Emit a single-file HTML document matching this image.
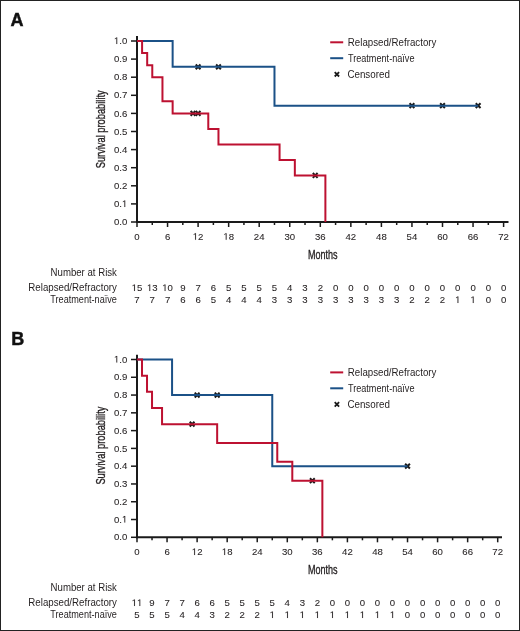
<!DOCTYPE html>
<html><head><meta charset="utf-8"><style>
html,body{margin:0;padding:0;background:#fff;}
.wrap{position:relative;width:520px;height:631px;box-sizing:border-box;border:1px solid #222;overflow:hidden;background:#fff;}
svg{position:absolute;left:-1px;top:-1px;will-change:transform;}
svg{font-family:"Liberation Sans", sans-serif;font-size:10px;fill:#231f20;}
.d{stroke:#231f20;stroke-width:0.08px;}
.o{fill:#231f20;stroke:#231f20;stroke-width:0.08px;vector-effect:non-scaling-stroke;}
.t{stroke:#231f20;stroke-width:0.35px;}
</style></head><body><div class="wrap">
<svg width="520" height="631" viewBox="0 0 520 631">
<text x="10.6" y="25.8" font-weight="bold" font-size="18" fill="#111" stroke="#111" stroke-width="0.45">A</text>
<path d="M137 36V223" stroke="#1a1a1a" stroke-width="2"/>
<path d="M136 222H508.5" stroke="#1a1a1a" stroke-width="2"/>
<path d="M195.7 64.46L200.5 69.26M195.7 69.26L200.5 64.46" stroke="#1a1a1a" stroke-width="2" fill="none"/>
<path d="M216.07 64.46L220.87 69.26M216.07 69.26L220.87 64.46" stroke="#1a1a1a" stroke-width="2" fill="none"/>
<path d="M409.55 103.24L414.35 108.04M409.55 108.04L414.35 103.24" stroke="#1a1a1a" stroke-width="2" fill="none"/>
<path d="M440.1 103.24L444.9 108.04M440.1 108.04L444.9 103.24" stroke="#1a1a1a" stroke-width="2" fill="none"/>
<path d="M475.74 103.24L480.54 108.04M475.74 108.04L480.54 103.24" stroke="#1a1a1a" stroke-width="2" fill="none"/>
<path d="M190.61 111L195.41 115.8M190.61 115.8L195.41 111" stroke="#1a1a1a" stroke-width="2" fill="none"/>
<path d="M195.7 111L200.5 115.8M195.7 115.8L200.5 111" stroke="#1a1a1a" stroke-width="2" fill="none"/>
<path d="M312.81 173.06L317.61 177.86M312.81 177.86L317.61 173.06" stroke="#1a1a1a" stroke-width="2" fill="none"/>
<path d="M137 41H172.64V66.86H274.48V105.64H478.14" stroke="#1b5187" stroke-width="2" fill="none" stroke-linejoin="miter" stroke-linecap="butt"/>
<path d="M137 41H142.09V53.07H147.18V65.13H152.28V77.2H162.46V101.33H172.64V113.4H208.28V128.91H218.47V144.43H279.57V159.94H294.84V175.46H325.39V222H325.39" stroke="#bd1131" stroke-width="2" fill="none" stroke-linejoin="miter" stroke-linecap="butt"/>
<path d="M131 222H137" stroke="#1a1a1a" stroke-width="1.5"/>
<text transform="translate(127.3 225.1) scale(1.0 1)" text-anchor="end" font-size="9.6" class="d">0.0</text>
<path d="M131 203.9H137" stroke="#1a1a1a" stroke-width="1.5"/>
<text transform="translate(127.3 207) scale(1.0 1)" text-anchor="end" font-size="9.6" class="d">0. </text>
<path d="M515 0H696V1409H530L197 1180V1010L515 1237Z" transform="translate(121.96 207) scale(0.00469 -0.00469)" class="o"/>
<path d="M131 185.8H137" stroke="#1a1a1a" stroke-width="1.5"/>
<text transform="translate(127.3 188.9) scale(1.0 1)" text-anchor="end" font-size="9.6" class="d">0.2</text>
<path d="M131 167.7H137" stroke="#1a1a1a" stroke-width="1.5"/>
<text transform="translate(127.3 170.8) scale(1.0 1)" text-anchor="end" font-size="9.6" class="d">0.3</text>
<path d="M131 149.6H137" stroke="#1a1a1a" stroke-width="1.5"/>
<text transform="translate(127.3 152.7) scale(1.0 1)" text-anchor="end" font-size="9.6" class="d">0.4</text>
<path d="M131 131.5H137" stroke="#1a1a1a" stroke-width="1.5"/>
<text transform="translate(127.3 134.6) scale(1.0 1)" text-anchor="end" font-size="9.6" class="d">0.5</text>
<path d="M131 113.4H137" stroke="#1a1a1a" stroke-width="1.5"/>
<text transform="translate(127.3 116.5) scale(1.0 1)" text-anchor="end" font-size="9.6" class="d">0.6</text>
<path d="M131 95.3H137" stroke="#1a1a1a" stroke-width="1.5"/>
<text transform="translate(127.3 98.4) scale(1.0 1)" text-anchor="end" font-size="9.6" class="d">0.7</text>
<path d="M131 77.2H137" stroke="#1a1a1a" stroke-width="1.5"/>
<text transform="translate(127.3 80.3) scale(1.0 1)" text-anchor="end" font-size="9.6" class="d">0.8</text>
<path d="M131 59.1H137" stroke="#1a1a1a" stroke-width="1.5"/>
<text transform="translate(127.3 62.2) scale(1.0 1)" text-anchor="end" font-size="9.6" class="d">0.9</text>
<path d="M131 41H137" stroke="#1a1a1a" stroke-width="1.5"/>
<text transform="translate(127.3 44.1) scale(1.0 1)" text-anchor="end" font-size="9.6" class="d"> .0</text>
<path d="M515 0H696V1409H530L197 1180V1010L515 1237Z" transform="translate(113.95 44.1) scale(0.00469 -0.00469)" class="o"/>
<path d="M137 222V227" stroke="#1a1a1a" stroke-width="1.5"/>
<text transform="translate(137 239.8) scale(1.0 1)" text-anchor="middle" font-size="9.6" class="d">0</text>
<path d="M152.28 222V225" stroke="#1a1a1a" stroke-width="1.5"/>
<path d="M167.55 222V227" stroke="#1a1a1a" stroke-width="1.5"/>
<text transform="translate(167.55 239.8) scale(1.0 1)" text-anchor="middle" font-size="9.6" class="d">6</text>
<path d="M182.82 222V225" stroke="#1a1a1a" stroke-width="1.5"/>
<path d="M198.1 222V227" stroke="#1a1a1a" stroke-width="1.5"/>
<text transform="translate(198.1 239.8) scale(1.0 1)" text-anchor="middle" font-size="9.6" class="d"> 2</text>
<path d="M515 0H696V1409H530L197 1180V1010L515 1237Z" transform="translate(192.76 239.8) scale(0.00469 -0.00469)" class="o"/>
<path d="M213.38 222V225" stroke="#1a1a1a" stroke-width="1.5"/>
<path d="M228.65 222V227" stroke="#1a1a1a" stroke-width="1.5"/>
<text transform="translate(228.65 239.8) scale(1.0 1)" text-anchor="middle" font-size="9.6" class="d"> 8</text>
<path d="M515 0H696V1409H530L197 1180V1010L515 1237Z" transform="translate(223.31 239.8) scale(0.00469 -0.00469)" class="o"/>
<path d="M243.93 222V225" stroke="#1a1a1a" stroke-width="1.5"/>
<path d="M259.2 222V227" stroke="#1a1a1a" stroke-width="1.5"/>
<text transform="translate(259.2 239.8) scale(1.0 1)" text-anchor="middle" font-size="9.6" class="d">24</text>
<path d="M274.48 222V225" stroke="#1a1a1a" stroke-width="1.5"/>
<path d="M289.75 222V227" stroke="#1a1a1a" stroke-width="1.5"/>
<text transform="translate(289.75 239.8) scale(1.0 1)" text-anchor="middle" font-size="9.6" class="d">30</text>
<path d="M305.02 222V225" stroke="#1a1a1a" stroke-width="1.5"/>
<path d="M320.3 222V227" stroke="#1a1a1a" stroke-width="1.5"/>
<text transform="translate(320.3 239.8) scale(1.0 1)" text-anchor="middle" font-size="9.6" class="d">36</text>
<path d="M335.58 222V225" stroke="#1a1a1a" stroke-width="1.5"/>
<path d="M350.85 222V227" stroke="#1a1a1a" stroke-width="1.5"/>
<text transform="translate(350.85 239.8) scale(1.0 1)" text-anchor="middle" font-size="9.6" class="d">42</text>
<path d="M366.12 222V225" stroke="#1a1a1a" stroke-width="1.5"/>
<path d="M381.4 222V227" stroke="#1a1a1a" stroke-width="1.5"/>
<text transform="translate(381.4 239.8) scale(1.0 1)" text-anchor="middle" font-size="9.6" class="d">48</text>
<path d="M396.68 222V225" stroke="#1a1a1a" stroke-width="1.5"/>
<path d="M411.95 222V227" stroke="#1a1a1a" stroke-width="1.5"/>
<text transform="translate(411.95 239.8) scale(1.0 1)" text-anchor="middle" font-size="9.6" class="d">54</text>
<path d="M427.23 222V225" stroke="#1a1a1a" stroke-width="1.5"/>
<path d="M442.5 222V227" stroke="#1a1a1a" stroke-width="1.5"/>
<text transform="translate(442.5 239.8) scale(1.0 1)" text-anchor="middle" font-size="9.6" class="d">60</text>
<path d="M457.78 222V225" stroke="#1a1a1a" stroke-width="1.5"/>
<path d="M473.05 222V227" stroke="#1a1a1a" stroke-width="1.5"/>
<text transform="translate(473.05 239.8) scale(1.0 1)" text-anchor="middle" font-size="9.6" class="d">66</text>
<path d="M488.32 222V225" stroke="#1a1a1a" stroke-width="1.5"/>
<path d="M503.6 222V227" stroke="#1a1a1a" stroke-width="1.5"/>
<text transform="translate(503.6 239.8) scale(1.0 1)" text-anchor="middle" font-size="9.6" class="d">72</text>
<text x="322.8" y="258.7" text-anchor="middle" textLength="29.6" lengthAdjust="spacingAndGlyphs" font-size="13" class="t">Months</text>
<text transform="translate(105.1 129.3) rotate(-90)" text-anchor="middle" font-size="13" class="t" textLength="78" lengthAdjust="spacingAndGlyphs">Survival probability</text>
<path d="M330.2 42.3H343.2" stroke="#bd1131" stroke-width="2"/>
<path d="M330.2 58.2H343.2" stroke="#1b5187" stroke-width="2"/>
<path d="M334.7 72.1L339.1 76.5M334.7 76.5L339.1 72.1" stroke="#1a1a1a" stroke-width="1.8" fill="none"/>
<text x="347.8" y="45.9" textLength="88.6" lengthAdjust="spacingAndGlyphs">Relapsed/Refractory</text>
<text x="347.9" y="61.8" textLength="66.6" lengthAdjust="spacingAndGlyphs">Treatment-naïve</text>
<text x="347.4" y="77.9" textLength="42.5" lengthAdjust="spacingAndGlyphs">Censored</text>
<text x="116.9" y="275.7" text-anchor="end" textLength="66.3" lengthAdjust="spacingAndGlyphs">Number at Risk</text>
<text x="116.9" y="290.8" text-anchor="end" textLength="88.6" lengthAdjust="spacingAndGlyphs">Relapsed/Refractory</text>
<text x="116.9" y="302.7" text-anchor="end" textLength="66.6" lengthAdjust="spacingAndGlyphs">Treatment-naïve</text>
<text transform="translate(137 291) scale(1.0 1)" text-anchor="middle" font-size="9.6" class="d"> 5</text>
<path d="M515 0H696V1409H530L197 1180V1010L515 1237Z" transform="translate(131.66 291) scale(0.00469 -0.00469)" class="o"/>
<text transform="translate(137 303) scale(1.0 1)" text-anchor="middle" font-size="9.6" class="d">7</text>
<text transform="translate(152.28 291) scale(1.0 1)" text-anchor="middle" font-size="9.6" class="d"> 3</text>
<path d="M515 0H696V1409H530L197 1180V1010L515 1237Z" transform="translate(146.94 291) scale(0.00469 -0.00469)" class="o"/>
<text transform="translate(152.28 303) scale(1.0 1)" text-anchor="middle" font-size="9.6" class="d">7</text>
<text transform="translate(167.55 291) scale(1.0 1)" text-anchor="middle" font-size="9.6" class="d"> 0</text>
<path d="M515 0H696V1409H530L197 1180V1010L515 1237Z" transform="translate(162.21 291) scale(0.00469 -0.00469)" class="o"/>
<text transform="translate(167.55 303) scale(1.0 1)" text-anchor="middle" font-size="9.6" class="d">7</text>
<text transform="translate(182.82 291) scale(1.0 1)" text-anchor="middle" font-size="9.6" class="d">9</text>
<text transform="translate(182.82 303) scale(1.0 1)" text-anchor="middle" font-size="9.6" class="d">6</text>
<text transform="translate(198.1 291) scale(1.0 1)" text-anchor="middle" font-size="9.6" class="d">7</text>
<text transform="translate(198.1 303) scale(1.0 1)" text-anchor="middle" font-size="9.6" class="d">6</text>
<text transform="translate(213.38 291) scale(1.0 1)" text-anchor="middle" font-size="9.6" class="d">6</text>
<text transform="translate(213.38 303) scale(1.0 1)" text-anchor="middle" font-size="9.6" class="d">5</text>
<text transform="translate(228.65 291) scale(1.0 1)" text-anchor="middle" font-size="9.6" class="d">5</text>
<text transform="translate(228.65 303) scale(1.0 1)" text-anchor="middle" font-size="9.6" class="d">4</text>
<text transform="translate(243.93 291) scale(1.0 1)" text-anchor="middle" font-size="9.6" class="d">5</text>
<text transform="translate(243.93 303) scale(1.0 1)" text-anchor="middle" font-size="9.6" class="d">4</text>
<text transform="translate(259.2 291) scale(1.0 1)" text-anchor="middle" font-size="9.6" class="d">5</text>
<text transform="translate(259.2 303) scale(1.0 1)" text-anchor="middle" font-size="9.6" class="d">4</text>
<text transform="translate(274.48 291) scale(1.0 1)" text-anchor="middle" font-size="9.6" class="d">5</text>
<text transform="translate(274.48 303) scale(1.0 1)" text-anchor="middle" font-size="9.6" class="d">3</text>
<text transform="translate(289.75 291) scale(1.0 1)" text-anchor="middle" font-size="9.6" class="d">4</text>
<text transform="translate(289.75 303) scale(1.0 1)" text-anchor="middle" font-size="9.6" class="d">3</text>
<text transform="translate(305.02 291) scale(1.0 1)" text-anchor="middle" font-size="9.6" class="d">3</text>
<text transform="translate(305.02 303) scale(1.0 1)" text-anchor="middle" font-size="9.6" class="d">3</text>
<text transform="translate(320.3 291) scale(1.0 1)" text-anchor="middle" font-size="9.6" class="d">2</text>
<text transform="translate(320.3 303) scale(1.0 1)" text-anchor="middle" font-size="9.6" class="d">3</text>
<text transform="translate(335.58 291) scale(1.0 1)" text-anchor="middle" font-size="9.6" class="d">0</text>
<text transform="translate(335.58 303) scale(1.0 1)" text-anchor="middle" font-size="9.6" class="d">3</text>
<text transform="translate(350.85 291) scale(1.0 1)" text-anchor="middle" font-size="9.6" class="d">0</text>
<text transform="translate(350.85 303) scale(1.0 1)" text-anchor="middle" font-size="9.6" class="d">3</text>
<text transform="translate(366.12 291) scale(1.0 1)" text-anchor="middle" font-size="9.6" class="d">0</text>
<text transform="translate(366.12 303) scale(1.0 1)" text-anchor="middle" font-size="9.6" class="d">3</text>
<text transform="translate(381.4 291) scale(1.0 1)" text-anchor="middle" font-size="9.6" class="d">0</text>
<text transform="translate(381.4 303) scale(1.0 1)" text-anchor="middle" font-size="9.6" class="d">3</text>
<text transform="translate(396.68 291) scale(1.0 1)" text-anchor="middle" font-size="9.6" class="d">0</text>
<text transform="translate(396.68 303) scale(1.0 1)" text-anchor="middle" font-size="9.6" class="d">3</text>
<text transform="translate(411.95 291) scale(1.0 1)" text-anchor="middle" font-size="9.6" class="d">0</text>
<text transform="translate(411.95 303) scale(1.0 1)" text-anchor="middle" font-size="9.6" class="d">2</text>
<text transform="translate(427.23 291) scale(1.0 1)" text-anchor="middle" font-size="9.6" class="d">0</text>
<text transform="translate(427.23 303) scale(1.0 1)" text-anchor="middle" font-size="9.6" class="d">2</text>
<text transform="translate(442.5 291) scale(1.0 1)" text-anchor="middle" font-size="9.6" class="d">0</text>
<text transform="translate(442.5 303) scale(1.0 1)" text-anchor="middle" font-size="9.6" class="d">2</text>
<text transform="translate(457.78 291) scale(1.0 1)" text-anchor="middle" font-size="9.6" class="d">0</text>
<path d="M515 0H696V1409H530L197 1180V1010L515 1237Z" transform="translate(455.11 303) scale(0.00469 -0.00469)" class="o"/>
<text transform="translate(473.05 291) scale(1.0 1)" text-anchor="middle" font-size="9.6" class="d">0</text>
<path d="M515 0H696V1409H530L197 1180V1010L515 1237Z" transform="translate(470.38 303) scale(0.00469 -0.00469)" class="o"/>
<text transform="translate(488.32 291) scale(1.0 1)" text-anchor="middle" font-size="9.6" class="d">0</text>
<text transform="translate(488.32 303) scale(1.0 1)" text-anchor="middle" font-size="9.6" class="d">0</text>
<text transform="translate(503.6 291) scale(1.0 1)" text-anchor="middle" font-size="9.6" class="d">0</text>
<text transform="translate(503.6 303) scale(1.0 1)" text-anchor="middle" font-size="9.6" class="d">0</text>
<text x="11.2" y="344.5" font-weight="bold" font-size="18" fill="#111" stroke="#111" stroke-width="0.45">B</text>
<path d="M137 354.8V538.3" stroke="#1a1a1a" stroke-width="2"/>
<path d="M136 537.3H502" stroke="#1a1a1a" stroke-width="2"/>
<path d="M194.72 392.66L199.52 397.46M194.72 397.46L199.52 392.66" stroke="#1a1a1a" stroke-width="2" fill="none"/>
<path d="M214.76 392.66L219.56 397.46M214.76 397.46L219.56 392.66" stroke="#1a1a1a" stroke-width="2" fill="none"/>
<path d="M405.12 463.78L409.92 468.58M405.12 468.58L409.92 463.78" stroke="#1a1a1a" stroke-width="2" fill="none"/>
<path d="M189.71 421.75L194.51 426.55M189.71 426.55L194.51 421.75" stroke="#1a1a1a" stroke-width="2" fill="none"/>
<path d="M309.94 478.33L314.74 483.13M309.94 483.13L314.74 478.33" stroke="#1a1a1a" stroke-width="2" fill="none"/>
<path d="M137 359.5H172.07V395.06H272.26V466.18H407.52" stroke="#1b5187" stroke-width="2" fill="none" stroke-linejoin="miter" stroke-linecap="butt"/>
<path d="M137 359.5H142.01V375.66H147.02V391.83H152.03V407.99H162.05V424.15H217.16V443.01H277.27V461.87H292.3V480.73H322.36V537.3H322.36" stroke="#bd1131" stroke-width="2" fill="none" stroke-linejoin="miter" stroke-linecap="butt"/>
<path d="M131 537.3H137" stroke="#1a1a1a" stroke-width="1.5"/>
<text transform="translate(127.3 540.4) scale(1.0 1)" text-anchor="end" font-size="9.6" class="d">0.0</text>
<path d="M131 519.52H137" stroke="#1a1a1a" stroke-width="1.5"/>
<text transform="translate(127.3 522.62) scale(1.0 1)" text-anchor="end" font-size="9.6" class="d">0. </text>
<path d="M515 0H696V1409H530L197 1180V1010L515 1237Z" transform="translate(121.96 522.62) scale(0.00469 -0.00469)" class="o"/>
<path d="M131 501.74H137" stroke="#1a1a1a" stroke-width="1.5"/>
<text transform="translate(127.3 504.84) scale(1.0 1)" text-anchor="end" font-size="9.6" class="d">0.2</text>
<path d="M131 483.96H137" stroke="#1a1a1a" stroke-width="1.5"/>
<text transform="translate(127.3 487.06) scale(1.0 1)" text-anchor="end" font-size="9.6" class="d">0.3</text>
<path d="M131 466.18H137" stroke="#1a1a1a" stroke-width="1.5"/>
<text transform="translate(127.3 469.28) scale(1.0 1)" text-anchor="end" font-size="9.6" class="d">0.4</text>
<path d="M131 448.4H137" stroke="#1a1a1a" stroke-width="1.5"/>
<text transform="translate(127.3 451.5) scale(1.0 1)" text-anchor="end" font-size="9.6" class="d">0.5</text>
<path d="M131 430.62H137" stroke="#1a1a1a" stroke-width="1.5"/>
<text transform="translate(127.3 433.72) scale(1.0 1)" text-anchor="end" font-size="9.6" class="d">0.6</text>
<path d="M131 412.84H137" stroke="#1a1a1a" stroke-width="1.5"/>
<text transform="translate(127.3 415.94) scale(1.0 1)" text-anchor="end" font-size="9.6" class="d">0.7</text>
<path d="M131 395.06H137" stroke="#1a1a1a" stroke-width="1.5"/>
<text transform="translate(127.3 398.16) scale(1.0 1)" text-anchor="end" font-size="9.6" class="d">0.8</text>
<path d="M131 377.28H137" stroke="#1a1a1a" stroke-width="1.5"/>
<text transform="translate(127.3 380.38) scale(1.0 1)" text-anchor="end" font-size="9.6" class="d">0.9</text>
<path d="M131 359.5H137" stroke="#1a1a1a" stroke-width="1.5"/>
<text transform="translate(127.3 362.6) scale(1.0 1)" text-anchor="end" font-size="9.6" class="d"> .0</text>
<path d="M515 0H696V1409H530L197 1180V1010L515 1237Z" transform="translate(113.95 362.6) scale(0.00469 -0.00469)" class="o"/>
<path d="M137 537.3V542.3" stroke="#1a1a1a" stroke-width="1.5"/>
<text transform="translate(137 555.1) scale(1.0 1)" text-anchor="middle" font-size="9.6" class="d">0</text>
<path d="M152.03 537.3V540.3" stroke="#1a1a1a" stroke-width="1.5"/>
<path d="M167.06 537.3V542.3" stroke="#1a1a1a" stroke-width="1.5"/>
<text transform="translate(167.06 555.1) scale(1.0 1)" text-anchor="middle" font-size="9.6" class="d">6</text>
<path d="M182.09 537.3V540.3" stroke="#1a1a1a" stroke-width="1.5"/>
<path d="M197.12 537.3V542.3" stroke="#1a1a1a" stroke-width="1.5"/>
<text transform="translate(197.12 555.1) scale(1.0 1)" text-anchor="middle" font-size="9.6" class="d"> 2</text>
<path d="M515 0H696V1409H530L197 1180V1010L515 1237Z" transform="translate(191.78 555.1) scale(0.00469 -0.00469)" class="o"/>
<path d="M212.15 537.3V540.3" stroke="#1a1a1a" stroke-width="1.5"/>
<path d="M227.18 537.3V542.3" stroke="#1a1a1a" stroke-width="1.5"/>
<text transform="translate(227.18 555.1) scale(1.0 1)" text-anchor="middle" font-size="9.6" class="d"> 8</text>
<path d="M515 0H696V1409H530L197 1180V1010L515 1237Z" transform="translate(221.84 555.1) scale(0.00469 -0.00469)" class="o"/>
<path d="M242.2 537.3V540.3" stroke="#1a1a1a" stroke-width="1.5"/>
<path d="M257.23 537.3V542.3" stroke="#1a1a1a" stroke-width="1.5"/>
<text transform="translate(257.23 555.1) scale(1.0 1)" text-anchor="middle" font-size="9.6" class="d">24</text>
<path d="M272.26 537.3V540.3" stroke="#1a1a1a" stroke-width="1.5"/>
<path d="M287.29 537.3V542.3" stroke="#1a1a1a" stroke-width="1.5"/>
<text transform="translate(287.29 555.1) scale(1.0 1)" text-anchor="middle" font-size="9.6" class="d">30</text>
<path d="M302.32 537.3V540.3" stroke="#1a1a1a" stroke-width="1.5"/>
<path d="M317.35 537.3V542.3" stroke="#1a1a1a" stroke-width="1.5"/>
<text transform="translate(317.35 555.1) scale(1.0 1)" text-anchor="middle" font-size="9.6" class="d">36</text>
<path d="M332.38 537.3V540.3" stroke="#1a1a1a" stroke-width="1.5"/>
<path d="M347.41 537.3V542.3" stroke="#1a1a1a" stroke-width="1.5"/>
<text transform="translate(347.41 555.1) scale(1.0 1)" text-anchor="middle" font-size="9.6" class="d">42</text>
<path d="M362.44 537.3V540.3" stroke="#1a1a1a" stroke-width="1.5"/>
<path d="M377.47 537.3V542.3" stroke="#1a1a1a" stroke-width="1.5"/>
<text transform="translate(377.47 555.1) scale(1.0 1)" text-anchor="middle" font-size="9.6" class="d">48</text>
<path d="M392.5 537.3V540.3" stroke="#1a1a1a" stroke-width="1.5"/>
<path d="M407.52 537.3V542.3" stroke="#1a1a1a" stroke-width="1.5"/>
<text transform="translate(407.52 555.1) scale(1.0 1)" text-anchor="middle" font-size="9.6" class="d">54</text>
<path d="M422.55 537.3V540.3" stroke="#1a1a1a" stroke-width="1.5"/>
<path d="M437.58 537.3V542.3" stroke="#1a1a1a" stroke-width="1.5"/>
<text transform="translate(437.58 555.1) scale(1.0 1)" text-anchor="middle" font-size="9.6" class="d">60</text>
<path d="M452.61 537.3V540.3" stroke="#1a1a1a" stroke-width="1.5"/>
<path d="M467.64 537.3V542.3" stroke="#1a1a1a" stroke-width="1.5"/>
<text transform="translate(467.64 555.1) scale(1.0 1)" text-anchor="middle" font-size="9.6" class="d">66</text>
<path d="M482.67 537.3V540.3" stroke="#1a1a1a" stroke-width="1.5"/>
<path d="M497.7 537.3V542.3" stroke="#1a1a1a" stroke-width="1.5"/>
<text transform="translate(497.7 555.1) scale(1.0 1)" text-anchor="middle" font-size="9.6" class="d">72</text>
<text x="322.8" y="574" text-anchor="middle" textLength="29.6" lengthAdjust="spacingAndGlyphs" font-size="13" class="t">Months</text>
<text transform="translate(105.1 445.6) rotate(-90)" text-anchor="middle" font-size="13" class="t" textLength="78" lengthAdjust="spacingAndGlyphs">Survival probability</text>
<path d="M330.2 372.4H343.2" stroke="#bd1131" stroke-width="2"/>
<path d="M330.2 388.3H343.2" stroke="#1b5187" stroke-width="2"/>
<path d="M334.7 402.2L339.1 406.6M334.7 406.6L339.1 402.2" stroke="#1a1a1a" stroke-width="1.8" fill="none"/>
<text x="347.8" y="376" textLength="88.6" lengthAdjust="spacingAndGlyphs">Relapsed/Refractory</text>
<text x="347.9" y="391.9" textLength="66.6" lengthAdjust="spacingAndGlyphs">Treatment-naïve</text>
<text x="347.4" y="408" textLength="42.5" lengthAdjust="spacingAndGlyphs">Censored</text>
<text x="116.9" y="590.7" text-anchor="end" textLength="66.3" lengthAdjust="spacingAndGlyphs">Number at Risk</text>
<text x="116.9" y="605.8" text-anchor="end" textLength="88.6" lengthAdjust="spacingAndGlyphs">Relapsed/Refractory</text>
<text x="116.9" y="617.7" text-anchor="end" textLength="66.6" lengthAdjust="spacingAndGlyphs">Treatment-naïve</text>
<path d="M515 0H696V1409H530L197 1180V1010L515 1237Z" transform="translate(131.66 606) scale(0.00469 -0.00469)" class="o"/>
<path d="M515 0H696V1409H530L197 1180V1010L515 1237Z" transform="translate(137 606) scale(0.00469 -0.00469)" class="o"/>
<text transform="translate(137 618) scale(1.0 1)" text-anchor="middle" font-size="9.6" class="d">5</text>
<text transform="translate(152.03 606) scale(1.0 1)" text-anchor="middle" font-size="9.6" class="d">9</text>
<text transform="translate(152.03 618) scale(1.0 1)" text-anchor="middle" font-size="9.6" class="d">5</text>
<text transform="translate(167.06 606) scale(1.0 1)" text-anchor="middle" font-size="9.6" class="d">7</text>
<text transform="translate(167.06 618) scale(1.0 1)" text-anchor="middle" font-size="9.6" class="d">5</text>
<text transform="translate(182.09 606) scale(1.0 1)" text-anchor="middle" font-size="9.6" class="d">7</text>
<text transform="translate(182.09 618) scale(1.0 1)" text-anchor="middle" font-size="9.6" class="d">4</text>
<text transform="translate(197.12 606) scale(1.0 1)" text-anchor="middle" font-size="9.6" class="d">6</text>
<text transform="translate(197.12 618) scale(1.0 1)" text-anchor="middle" font-size="9.6" class="d">4</text>
<text transform="translate(212.15 606) scale(1.0 1)" text-anchor="middle" font-size="9.6" class="d">6</text>
<text transform="translate(212.15 618) scale(1.0 1)" text-anchor="middle" font-size="9.6" class="d">3</text>
<text transform="translate(227.18 606) scale(1.0 1)" text-anchor="middle" font-size="9.6" class="d">5</text>
<text transform="translate(227.18 618) scale(1.0 1)" text-anchor="middle" font-size="9.6" class="d">2</text>
<text transform="translate(242.2 606) scale(1.0 1)" text-anchor="middle" font-size="9.6" class="d">5</text>
<text transform="translate(242.2 618) scale(1.0 1)" text-anchor="middle" font-size="9.6" class="d">2</text>
<text transform="translate(257.23 606) scale(1.0 1)" text-anchor="middle" font-size="9.6" class="d">5</text>
<text transform="translate(257.23 618) scale(1.0 1)" text-anchor="middle" font-size="9.6" class="d">2</text>
<text transform="translate(272.26 606) scale(1.0 1)" text-anchor="middle" font-size="9.6" class="d">5</text>
<path d="M515 0H696V1409H530L197 1180V1010L515 1237Z" transform="translate(269.59 618) scale(0.00469 -0.00469)" class="o"/>
<text transform="translate(287.29 606) scale(1.0 1)" text-anchor="middle" font-size="9.6" class="d">4</text>
<path d="M515 0H696V1409H530L197 1180V1010L515 1237Z" transform="translate(284.62 618) scale(0.00469 -0.00469)" class="o"/>
<text transform="translate(302.32 606) scale(1.0 1)" text-anchor="middle" font-size="9.6" class="d">3</text>
<path d="M515 0H696V1409H530L197 1180V1010L515 1237Z" transform="translate(299.65 618) scale(0.00469 -0.00469)" class="o"/>
<text transform="translate(317.35 606) scale(1.0 1)" text-anchor="middle" font-size="9.6" class="d">2</text>
<path d="M515 0H696V1409H530L197 1180V1010L515 1237Z" transform="translate(314.68 618) scale(0.00469 -0.00469)" class="o"/>
<text transform="translate(332.38 606) scale(1.0 1)" text-anchor="middle" font-size="9.6" class="d">0</text>
<path d="M515 0H696V1409H530L197 1180V1010L515 1237Z" transform="translate(329.71 618) scale(0.00469 -0.00469)" class="o"/>
<text transform="translate(347.41 606) scale(1.0 1)" text-anchor="middle" font-size="9.6" class="d">0</text>
<path d="M515 0H696V1409H530L197 1180V1010L515 1237Z" transform="translate(344.74 618) scale(0.00469 -0.00469)" class="o"/>
<text transform="translate(362.44 606) scale(1.0 1)" text-anchor="middle" font-size="9.6" class="d">0</text>
<path d="M515 0H696V1409H530L197 1180V1010L515 1237Z" transform="translate(359.77 618) scale(0.00469 -0.00469)" class="o"/>
<text transform="translate(377.47 606) scale(1.0 1)" text-anchor="middle" font-size="9.6" class="d">0</text>
<path d="M515 0H696V1409H530L197 1180V1010L515 1237Z" transform="translate(374.8 618) scale(0.00469 -0.00469)" class="o"/>
<text transform="translate(392.5 606) scale(1.0 1)" text-anchor="middle" font-size="9.6" class="d">0</text>
<path d="M515 0H696V1409H530L197 1180V1010L515 1237Z" transform="translate(389.83 618) scale(0.00469 -0.00469)" class="o"/>
<text transform="translate(407.52 606) scale(1.0 1)" text-anchor="middle" font-size="9.6" class="d">0</text>
<text transform="translate(407.52 618) scale(1.0 1)" text-anchor="middle" font-size="9.6" class="d">0</text>
<text transform="translate(422.55 606) scale(1.0 1)" text-anchor="middle" font-size="9.6" class="d">0</text>
<text transform="translate(422.55 618) scale(1.0 1)" text-anchor="middle" font-size="9.6" class="d">0</text>
<text transform="translate(437.58 606) scale(1.0 1)" text-anchor="middle" font-size="9.6" class="d">0</text>
<text transform="translate(437.58 618) scale(1.0 1)" text-anchor="middle" font-size="9.6" class="d">0</text>
<text transform="translate(452.61 606) scale(1.0 1)" text-anchor="middle" font-size="9.6" class="d">0</text>
<text transform="translate(452.61 618) scale(1.0 1)" text-anchor="middle" font-size="9.6" class="d">0</text>
<text transform="translate(467.64 606) scale(1.0 1)" text-anchor="middle" font-size="9.6" class="d">0</text>
<text transform="translate(467.64 618) scale(1.0 1)" text-anchor="middle" font-size="9.6" class="d">0</text>
<text transform="translate(482.67 606) scale(1.0 1)" text-anchor="middle" font-size="9.6" class="d">0</text>
<text transform="translate(482.67 618) scale(1.0 1)" text-anchor="middle" font-size="9.6" class="d">0</text>
<text transform="translate(497.7 606) scale(1.0 1)" text-anchor="middle" font-size="9.6" class="d">0</text>
<text transform="translate(497.7 618) scale(1.0 1)" text-anchor="middle" font-size="9.6" class="d">0</text>
</svg></div></body></html>
